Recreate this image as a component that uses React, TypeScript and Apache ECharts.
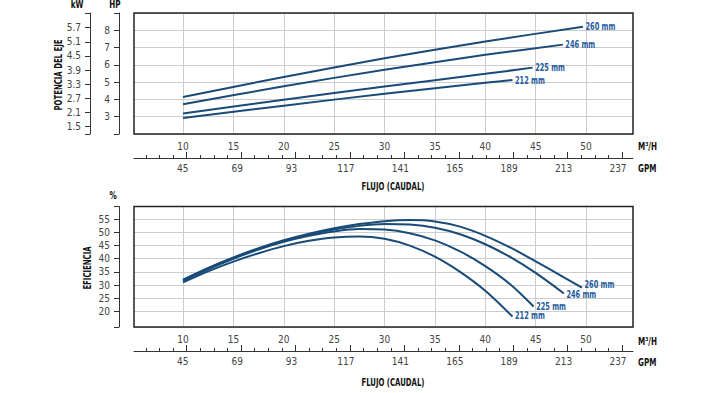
import React, { useEffect, useRef } from "react";
import * as echarts from "echarts";

// ---------- data ----------
const M3H_TICKS = [10, 15, 20, 25, 30, 35, 40, 45, 50];
const GPM_MAJOR = [45, 69, 93, 117, 141, 165, 189, 213, 237];
const GPM_MINOR = [27, 33, 39, 45, 51, 57, 63, 69, 75, 81, 87, 93, 99, 105, 111, 117, 123, 129, 135, 141, 147, 153, 159, 165, 171, 177, 183, 189, 195, 201, 207, 213, 219, 225, 231, 237];
const HP_TICKS = [3, 4, 5, 6, 7, 8];
const KW_TICKS = [1.5, 2.1, 2.7, 3.3, 3.9, 4.5, 5.1, 5.7];
const EFF_TICKS = [20, 25, 30, 35, 40, 45, 50, 55];
const IMPELLERS = ["260 mm", "246 mm", "225 mm", "212 mm"];

// Power (HP) vs flow (m3/h)
const P260_X = [10, 20, 30, 40, 49.7];
const P260_Y = [4.14, 5.3, 6.38, 7.35, 8.21];
const P246_X = [10, 20, 30, 40, 47.7];
const P246_Y = [3.72, 4.76, 5.72, 6.58, 7.17];
const P225_X = [10, 20, 30, 40, 44.7];
const P225_Y = [3.19, 3.98, 4.75, 5.48, 5.84];
const P212_X = [10, 20, 30, 40, 42.7];
const P212_Y = [2.92, 3.64, 4.33, 4.96, 5.12];

// Efficiency (%) vs flow (m3/h)
const E260_X = [10, 12.5, 15, 17.5, 20, 22.5, 25, 27.5, 30, 32.5, 35, 37.5, 40, 42.5, 45, 47.5, 49.6];
const E260_Y = [32.0, 36.5, 40.5, 44.0, 47.0, 49.5, 51.6, 53.2, 54.3, 54.7, 54.2, 52.2, 48.7, 44.2, 39.0, 33.6, 29.0];
const E246_X = [10, 12.5, 15, 17.5, 20, 22.5, 25, 27.5, 30, 32.5, 35, 37.5, 40, 42.5, 45, 47.8];
const E246_Y = [31.8, 36.3, 40.3, 43.8, 46.8, 49.2, 51.1, 52.5, 53.2, 53.0, 51.8, 49.3, 45.5, 40.6, 34.6, 26.8];
const E225_X = [10, 12.5, 15, 17.5, 20, 22.5, 25, 27.5, 30, 32.5, 35, 37.5, 40, 42.5, 44.8];
const E225_Y = [31.5, 36.0, 40.0, 43.5, 46.4, 48.7, 50.4, 51.3, 51.1, 49.7, 47.0, 42.8, 37.2, 30.2, 21.8];
const E212_X = [10, 12.5, 15, 17.5, 20, 22.5, 25, 27.5, 30, 32.5, 35, 37.5, 40, 42.7];
const E212_Y = [31.0, 35.2, 38.9, 42.1, 44.8, 46.8, 48.1, 48.5, 47.6, 45.0, 40.8, 35.0, 27.8, 18.0];

// ---------- layout / style ----------
const X_MIN = 5.137;
const X_MAX = 54.66;
const GPM_MIN = 21.75;
const GPM_MAX = 241.85;
const HP_MIN = 2;
const HP_MAX = 9;
const KW_MIN = 1.189;
const KW_MAX = 6.322;
const EFF_MIN = 14.03;
const EFF_MAX = 59.87;

const FONT = "'Liberation Sans Narrow', 'DejaVu Sans Condensed', 'DejaVu Sans', sans-serif";
const LINE_COLOR = "#184b78";
const LABEL_COLOR = "#1e5b9e";
const GRID_COLOR = "#cdcdcd";
const AXIS_COLOR = "#333";
const TICK_TEXT = { color: "#444", fontSize: 10, fontFamily: FONT };
const TOP_LABEL_DY = [0, 0, 0, 0];
const BOTTOM_LABEL_DY = [-3, 1.5, 0, -1.5];

const G0 = { left: 134, top: 13, width: 499, height: 121 };
const G1 = { left: 134, top: 206.5, width: 499, height: 120.5 };

function zip(xs: number[], ys: number[]) {
  return xs.map((x, i) => [x, ys[i]]);
}
function last(a: number[]) {
  return a[a.length - 1];
}

function flowAxes(gridIndex: number) {
  return [
    {
      type: "value",
      gridIndex,
      min: X_MIN,
      max: X_MAX,
      position: "bottom",
      axisLine: { show: false },
      axisTick: { show: false, customValues: M3H_TICKS },
      axisLabel: { customValues: M3H_TICKS, margin: 7, ...TICK_TEXT },
      splitLine: { show: true, lineStyle: { color: GRID_COLOR, width: 1 } },
    },
    {
      type: "value",
      gridIndex,
      min: GPM_MIN,
      max: GPM_MAX,
      position: "bottom",
      offset: 24,
      axisLine: { show: true, lineStyle: { color: AXIS_COLOR, width: 1 } },
      axisTick: { show: true, inside: true, length: 3, customValues: GPM_MINOR, lineStyle: { color: AXIS_COLOR, width: 1 } },
      axisLabel: { show: false },
      splitLine: { show: false },
    },
    {
      type: "value",
      gridIndex,
      min: GPM_MIN,
      max: GPM_MAX,
      position: "bottom",
      offset: 24,
      axisLine: { show: false },
      axisTick: { show: true, inside: true, length: 6, customValues: GPM_MAJOR, lineStyle: { color: AXIS_COLOR, width: 1 } },
      axisLabel: { customValues: GPM_MAJOR, margin: 5, padding: [0, 8, 0, 0], ...TICK_TEXT },
      splitLine: { show: false },
    },
  ];
}

function leftAxis(gridIndex: number, min: number, max: number, offset: number, ticks: number[], margin: number, split: boolean) {
  return {
    type: "value",
    gridIndex,
    min,
    max,
    position: "left",
    offset,
    axisLine: { show: true, lineStyle: { color: AXIS_COLOR, width: 1 } },
    axisTick: { show: true, length: 5, customValues: [min, ...ticks, max], lineStyle: { color: AXIS_COLOR, width: 1 } },
    axisLabel: { customValues: ticks, margin, ...TICK_TEXT },
    splitLine: { show: split, lineStyle: { color: GRID_COLOR, width: 1 } },
  };
}

function curve(name: string, xs: number[], ys: number[], xAxisIndex: number, yAxisIndex: number, smooth: any) {
  return {
    type: "line",
    name,
    xAxisIndex,
    yAxisIndex,
    data: zip(xs, ys),
    symbol: "none",
    smooth,
    lineStyle: { color: LINE_COLOR, width: 2 },
    z: 5,
  };
}

function endLabels(xAxisIndex: number, yAxisIndex: number, ends: number[][], dys: number[]) {
  return {
    type: "custom",
    xAxisIndex,
    yAxisIndex,
    silent: true,
    z: 6,
    data: ends,
    renderItem: (params: any, api: any) => {
      const p = api.coord([api.value(0), api.value(1)]);
      return {
        type: "text",
        x: p[0] + 2.5,
        y: p[1] + dys[params.dataIndex],
        scaleX: 0.7,
        style: {
          text: IMPELLERS[params.dataIndex],
          fill: LABEL_COLOR,
          font: `bold 10.5px ${FONT}`,
          textAlign: "left",
          textVerticalAlign: "middle",
        },
      };
    },
  };
}

function text(t: string, x: number, y: number, opts: any = {}) {
  return {
    type: "text",
    x,
    y,
    rotation: opts.rotation || 0,
    scaleX: opts.scaleX || 0.7,
    z: 100,
    silent: true,
    style: {
      text: t,
      fill: "#111",
      font: `bold ${opts.size || 11}px ${FONT}`,
      textAlign: opts.align || "center",
      textVerticalAlign: "middle",
    },
  };
}

function frame(g: { left: number; top: number; width: number; height: number }) {
  return {
    type: "rect",
    z: 100,
    silent: true,
    shape: { x: g.left, y: g.top, width: g.width, height: g.height },
    style: { fill: "none", stroke: "#222", lineWidth: 1.5 },
  };
}

export default function App() {
  const ref = useRef<HTMLDivElement>(null);

  useEffect(() => {
    if (!ref.current) return;
    const chart = echarts.init(ref.current, undefined, { renderer: "svg" });
    const powerEnds = [
      [last(P260_X), last(P260_Y)],
      [last(P246_X), last(P246_Y)],
      [last(P225_X), last(P225_Y)],
      [last(P212_X), last(P212_Y)],
    ];
    const effEnds = [
      [last(E260_X), last(E260_Y)],
      [last(E246_X), last(E246_Y)],
      [last(E225_X), last(E225_Y)],
      [last(E212_X), last(E212_Y)],
    ];
    const option: any = {
      animation: false,
      backgroundColor: "#ffffff",
      textStyle: { fontFamily: FONT },
      grid: [
        { ...G0, outerBoundsMode: "none", containLabel: false },
        { ...G1, outerBoundsMode: "none", containLabel: false },
      ],
      xAxis: [...flowAxes(0), ...flowAxes(1)],
      yAxis: [
        leftAxis(0, HP_MIN, HP_MAX, 15, HP_TICKS, 9, true),
        leftAxis(0, KW_MIN, KW_MAX, 44, KW_TICKS, 9, false),
        leftAxis(1, EFF_MIN, EFF_MAX, 15, EFF_TICKS, 9, true),
      ],
      series: [
        curve(IMPELLERS[0], P260_X, P260_Y, 0, 0, 0.2),
        curve(IMPELLERS[1], P246_X, P246_Y, 0, 0, 0.2),
        curve(IMPELLERS[2], P225_X, P225_Y, 0, 0, 0.2),
        curve(IMPELLERS[3], P212_X, P212_Y, 0, 0, 0.2),
        endLabels(0, 0, powerEnds, TOP_LABEL_DY),
        curve(IMPELLERS[0], E260_X, E260_Y, 3, 2, 0.3),
        curve(IMPELLERS[1], E246_X, E246_Y, 3, 2, 0.3),
        curve(IMPELLERS[2], E225_X, E225_Y, 3, 2, 0.3),
        curve(IMPELLERS[3], E212_X, E212_Y, 3, 2, 0.3),
        endLabels(3, 2, effEnds, BOTTOM_LABEL_DY),
      ],
      graphic: [
        frame(G0),
        frame(G1),
        text("kW", 77, 5, { size: 10, scaleX: 0.8 }),
        text("HP", 115, 5, { size: 10, scaleX: 0.8 }),
        text("POTENCIA DEL EJE", 58, 75, { rotation: Math.PI / 2 }),
        text("M³/H", 638, 147, { align: "left", size: 10, scaleX: 0.8 }),
        text("GPM", 638, 169, { align: "left", size: 10, scaleX: 0.8 }),
        text("FLUJO (CAUDAL)", 393, 186),
        text("%", 113, 196, { size: 10, scaleX: 0.8 }),
        text("EFICIENCIA", 87, 268, { rotation: Math.PI / 2 }),
        text("M³/H", 638, 341.7, { align: "left", size: 10, scaleX: 0.8 }),
        text("GPM", 638, 362.3, { align: "left", size: 10, scaleX: 0.8 }),
        text("FLUJO (CAUDAL)", 393, 381.7),
      ],
    };
    chart.setOption(option);
    return () => chart.dispose();
  }, []);

  return (
    <div
      ref={ref}
      style={{ position: "fixed", left: 0, top: 0, width: 713, height: 393, background: "#fff" }}
    />
  );
}
